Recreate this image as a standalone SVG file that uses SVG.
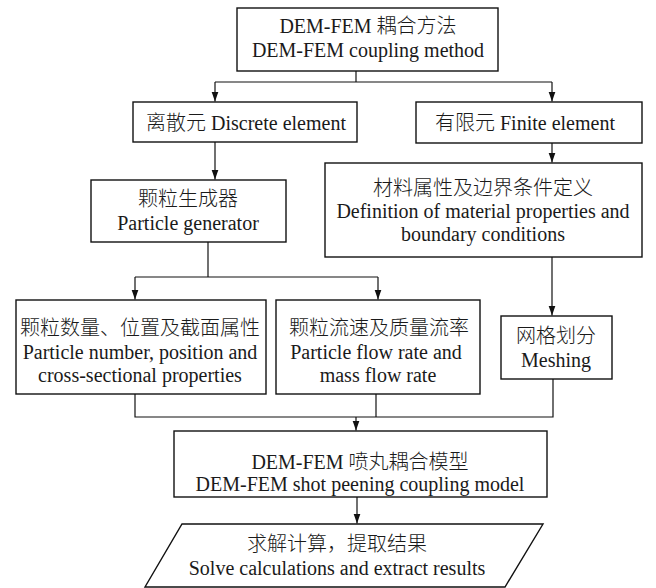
<svg xmlns="http://www.w3.org/2000/svg" width="656" height="588" viewBox="0 0 656 588">
<defs>
<marker id="ah" markerUnits="userSpaceOnUse" markerWidth="10" markerHeight="8" refX="10" refY="4" orient="auto">
<path d="M0,0.5 L10,4 L0,7.5 z" fill="#111"/>
</marker>
<style>
.box{fill:#fff;stroke:#111;stroke-width:1.4}
.ln{fill:none;stroke:#111;stroke-width:1.2}
.arr{fill:none;stroke:#111;stroke-width:1.2;marker-end:url(#ah)}
text{font-family:"Liberation Serif","Noto Sans CJK SC",serif;font-size:20px;font-weight:300;fill:#1a1a1a;text-anchor:middle}
</style>
</defs>
<rect width="656" height="588" fill="#fff"/>
<g id="connectors">
<polyline class="ln" points="356,71 356,82"/>
<polyline class="ln" points="215,82 552,82"/>
<polyline class="arr" points="215,82 215,101.5"/>
<polyline class="arr" points="552,82 552,101.5"/>
<polyline class="arr" points="215,142 215,179.5"/>
<polyline class="arr" points="552,143 552,162.5"/>
<polyline class="ln" points="208,242 208,277"/>
<polyline class="ln" points="135,277 378,277"/>
<polyline class="arr" points="135,277 135,299.5"/>
<polyline class="arr" points="378,277 378,299.5"/>
<polyline class="arr" points="552,257 552,315.5"/>
<polyline class="ln" points="135,394 135,417 553,417 553,379"/>
<polyline class="ln" points="376,394 376,417"/>
<polyline class="arr" points="356,417 356,430.5"/>
<polyline class="arr" points="357,497 357,523.5"/>
</g>
<g id="n-top">
<rect class="box" x="237" y="8" width="261" height="63"/>
<text x="368" y="33">DEM-FEM 耦合方法</text>
<text x="368" y="57">DEM-FEM coupling method</text>
</g>
<g id="n-discrete">
<rect class="box" x="133" y="102" width="224" height="40"/>
<text x="246" y="130">离散元 Discrete element</text>
</g>
<g id="n-finite">
<rect class="box" x="416" y="102" width="226" height="41"/>
<text x="525" y="130">有限元 Finite element</text>
</g>
<g id="n-generator">
<rect class="box" x="91" y="180" width="195" height="62"/>
<text x="188" y="206">颗粒生成器</text>
<text x="188" y="230">Particle generator</text>
</g>
<g id="n-material">
<rect class="box" x="325" y="163" width="317" height="94"/>
<text x="483" y="195">材料属性及边界条件定义</text>
<text x="483" y="218">Definition of material properties and</text>
<text x="483" y="241">boundary conditions</text>
</g>
<g id="n-number">
<rect class="box" x="16" y="300" width="250" height="94"/>
<text x="140" y="335">颗粒数量、位置及截面属性</text>
<text x="140" y="359">Particle number, position and</text>
<text x="140" y="382">cross-sectional properties</text>
</g>
<g id="n-flow">
<rect class="box" x="276" y="300" width="204" height="94"/>
<text x="379" y="335">颗粒流速及质量流率</text>
<text x="376" y="359">Particle flow rate and</text>
<text x="378" y="382">mass flow rate</text>
</g>
<g id="n-meshing">
<rect class="box" x="501" y="316" width="111" height="63"/>
<text x="556" y="343">网格划分</text>
<text x="556" y="367">Meshing</text>
</g>
<g id="n-model">
<rect class="box" x="174" y="431" width="373" height="66"/>
<text x="360" y="469">DEM-FEM 喷丸耦合模型</text>
<text x="360" y="491">DEM-FEM shot peening coupling model</text>
</g>
<g id="n-solve">
<polygon class="box" points="182,524 543,524 505,587 145,587"/>
<text x="337" y="551">求解计算，提取结果</text>
<text x="337" y="575">Solve calculations and extract results</text>
</g>
</svg>
